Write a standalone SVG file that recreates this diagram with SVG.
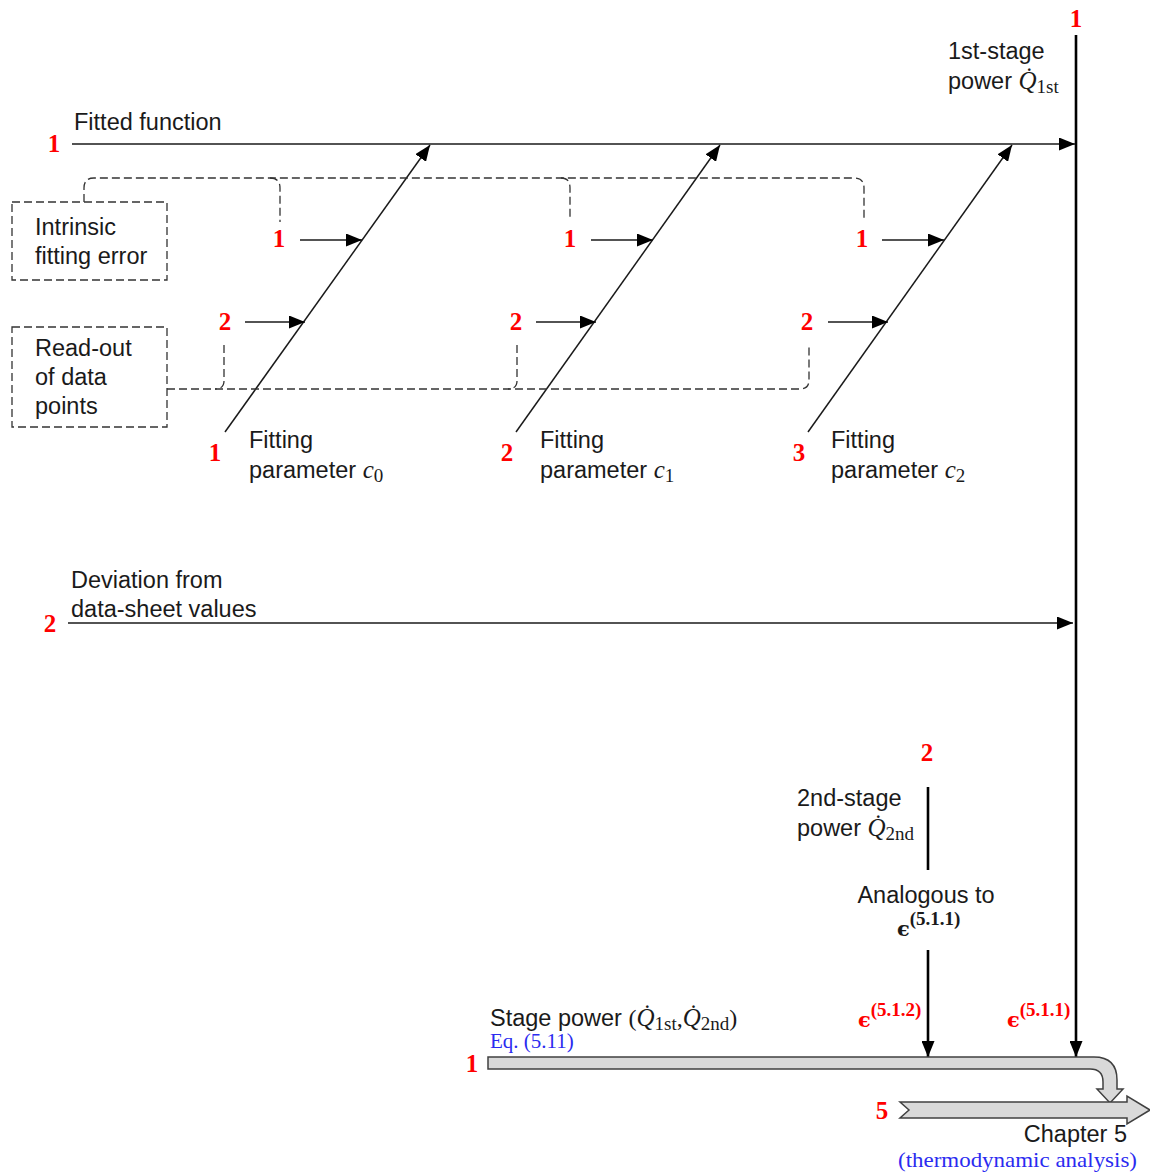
<svg xmlns="http://www.w3.org/2000/svg" width="1150" height="1175" viewBox="0 0 1150 1175">
  <style>
    .lbl { font-family: "Liberation Sans", Arial, sans-serif; font-size: 23.5px; fill: #1a1a1a; }
    .num { font-family: "Liberation Serif", "Times New Roman", serif; font-weight: bold; font-size: 25px; fill: #ff0000; }
    .math { font-family: "Liberation Serif", "DejaVu Serif", serif; font-style: italic; font-size: 25px; }
    .sub { font-family: "Liberation Serif", "DejaVu Serif", serif; font-style: normal; font-size: 19px; }
    .par { font-family: "Liberation Serif", "DejaVu Serif", serif; font-style: normal; font-size: 24px; }
    .eps { font-family: "DejaVu Serif", "Liberation Serif", serif; font-weight: bold; font-size: 21px; }
    .sup { font-family: "Liberation Serif", "DejaVu Serif", serif; font-weight: bold; font-size: 19px; }
    .blue { font-family: "Liberation Serif", "Times New Roman", serif; fill: #2b2bf0; }
    .line { stroke: #1a1a1a; stroke-width: 1.5; fill: none; }
    .thick { stroke: #000; stroke-width: 2.6; fill: none; }
    .dash { stroke: #333; stroke-width: 1.3; fill: none; stroke-dasharray: 8 4; }
    .box { stroke: #333; stroke-width: 1.3; fill: #fff; stroke-dasharray: 8 4; }
    .band { fill: #d9d9d9; stroke: #404040; stroke-width: 1.5; }
  </style>
  <defs>
    <marker id="arr" markerUnits="userSpaceOnUse" markerWidth="17" markerHeight="13" refX="16" refY="6.5" orient="auto">
      <path d="M0,0 L16,6.5 L0,13 Z" fill="#000"/>
    </marker>
  </defs>

  <rect width="1150" height="1175" fill="#fff"/>

  <!-- connectors: main spines, ribs and dashed links -->
  <g id="connectors">
    <!-- 1st-stage spine -->
    <line class="thick" x1="1076" y1="35" x2="1076" y2="1057" marker-end="url(#arr)"/>
    <!-- fitted function -->
    <line class="line" x1="72" y1="144" x2="1075" y2="144" marker-end="url(#arr)"/>
    <!-- deviation from data-sheet -->
    <line class="line" x1="68" y1="623" x2="1073" y2="623" marker-end="url(#arr)"/>
    <!-- fitting parameter ribs -->
    <line class="line" x1="225" y1="432" x2="430" y2="145" marker-end="url(#arr)"/>
    <line class="line" x1="516" y1="432" x2="720" y2="145" marker-end="url(#arr)"/>
    <line class="line" x1="808" y1="432" x2="1012" y2="145" marker-end="url(#arr)"/>
    <!-- sub-ribs -->
    <line class="line" x1="300" y1="240" x2="362" y2="240" marker-end="url(#arr)"/>
    <line class="line" x1="245" y1="322" x2="305" y2="322" marker-end="url(#arr)"/>
    <line class="line" x1="591" y1="240" x2="653" y2="240" marker-end="url(#arr)"/>
    <line class="line" x1="536" y1="322" x2="596" y2="322" marker-end="url(#arr)"/>
    <line class="line" x1="882" y1="240" x2="944" y2="240" marker-end="url(#arr)"/>
    <line class="line" x1="828" y1="322" x2="888" y2="322" marker-end="url(#arr)"/>
    <!-- dashed link: intrinsic fitting error -->
    <path class="dash" d="M84,202 V188 Q84,178 94,178 H854 Q864,178 864,188 V218"/>
    <path class="dash" d="M270,178 Q280,178 280,188 V222"/>
    <path class="dash" d="M561,178 Q570,178 570,188 V220"/>
    <!-- dashed link: read-out of data points -->
    <path class="dash" d="M167,389 H800 Q809,389 809,380 V345"/>
    <path class="dash" d="M224,345 V381 Q224,389 215,389"/>
    <path class="dash" d="M517,345 V381 Q517,389 508,389"/>
    <!-- 2nd-stage spine -->
    <line class="thick" x1="928" y1="787" x2="928" y2="870"/>
    <line class="thick" x1="928" y1="950" x2="928" y2="1057" marker-end="url(#arr)"/>
  </g>

  <!-- 1st-stage power -->
  <g id="node-q1st">
    <text class="num" x="1076" y="27" text-anchor="middle">1</text>
    <text class="lbl" x="948" y="59">1st-stage</text>
    <text class="lbl" x="948" y="89">power <tspan class="math">Q̇</tspan><tspan class="sub" dy="4">1st</tspan></text>
  </g>

  <!-- fitted function -->
  <g id="node-fitted">
    <text class="num" x="54" y="152" text-anchor="middle">1</text>
    <text class="lbl" x="74" y="130">Fitted function</text>
  </g>

  <!-- intrinsic fitting error -->
  <g id="node-intrinsic">
    <rect class="box" x="12" y="202" width="155" height="78"/>
    <text class="lbl" x="35" y="235">Intrinsic</text>
    <text class="lbl" x="35" y="264">fitting error</text>
  </g>

  <!-- read-out of data points -->
  <g id="node-readout">
    <rect class="box" x="12" y="327" width="155" height="100"/>
    <text class="lbl" x="35" y="356">Read-out</text>
    <text class="lbl" x="35" y="385">of data</text>
    <text class="lbl" x="35" y="414">points</text>
  </g>

  <!-- fitting parameter c0 -->
  <g id="node-c0">
    <text class="num" x="279" y="247" text-anchor="middle">1</text>
    <text class="num" x="225" y="330" text-anchor="middle">2</text>
    <text class="num" x="215" y="461" text-anchor="middle">1</text>
    <text class="lbl" x="249" y="448">Fitting</text>
    <text class="lbl" x="249" y="478">parameter <tspan class="math">c</tspan><tspan class="sub" dy="4">0</tspan></text>
  </g>

  <!-- fitting parameter c1 -->
  <g id="node-c1">
    <text class="num" x="570" y="247" text-anchor="middle">1</text>
    <text class="num" x="516" y="330" text-anchor="middle">2</text>
    <text class="num" x="507" y="461" text-anchor="middle">2</text>
    <text class="lbl" x="540" y="448">Fitting</text>
    <text class="lbl" x="540" y="478">parameter <tspan class="math">c</tspan><tspan class="sub" dy="4">1</tspan></text>
  </g>

  <!-- fitting parameter c2 -->
  <g id="node-c2">
    <text class="num" x="862" y="247" text-anchor="middle">1</text>
    <text class="num" x="807" y="330" text-anchor="middle">2</text>
    <text class="num" x="799" y="461" text-anchor="middle">3</text>
    <text class="lbl" x="831" y="448">Fitting</text>
    <text class="lbl" x="831" y="478">parameter <tspan class="math">c</tspan><tspan class="sub" dy="4">2</tspan></text>
  </g>

  <!-- deviation from data-sheet values -->
  <g id="node-deviation">
    <text class="num" x="50" y="632" text-anchor="middle">2</text>
    <text class="lbl" x="71" y="588">Deviation from</text>
    <text class="lbl" x="71" y="617">data-sheet values</text>
  </g>

  <!-- 2nd-stage power -->
  <g id="node-q2nd">
    <text class="num" x="927" y="761" text-anchor="middle">2</text>
    <text class="lbl" x="797" y="806">2nd-stage</text>
    <text class="lbl" x="797" y="836">power <tspan class="math">Q̇</tspan><tspan class="sub" dy="4">2nd</tspan></text>
    <text class="lbl" x="926" y="903" text-anchor="middle">Analogous to</text>
    <text x="897" y="936" fill="#1a1a1a"><tspan class="eps">ϵ</tspan><tspan class="sup" dy="-11">(5.1.1)</tspan></text>
  </g>

  <!-- error labels on spines -->
  <g id="node-eps">
    <text x="858" y="1027" fill="#ff0000"><tspan class="eps">ϵ</tspan><tspan class="sup" dy="-11">(5.1.2)</tspan></text>
    <text x="1007" y="1027" fill="#ff0000"><tspan class="eps">ϵ</tspan><tspan class="sup" dy="-11">(5.1.1)</tspan></text>
  </g>

  <!-- stage power band -->
  <g id="node-stage-power">
    <text class="num" x="472" y="1072" text-anchor="middle">1</text>
    <text class="lbl" x="490" y="1026">Stage power <tspan class="par">(</tspan><tspan class="math">Q̇</tspan><tspan class="sub" dy="4">1st</tspan><tspan class="par" dy="-4">,</tspan><tspan class="math">Q̇</tspan><tspan class="sub" dy="4">2nd</tspan><tspan class="par" dy="-4">)</tspan></text>
    <text class="blue" x="490" y="1048" font-size="21">Eq. (5.11)</text>
    <path class="band" d="M488,1057 H1094 Q1117,1057 1117,1080 V1089 H1123 L1110,1103 L1097,1089 H1103 V1082 Q1103,1069 1090,1069 H488 Z"/>
  </g>

  <!-- chapter 5 -->
  <g id="node-chapter5">
    <text class="num" x="882" y="1119" text-anchor="middle">5</text>
    <path class="band" d="M900,1102 H1127 V1096 L1150,1110 L1127,1124 V1118 H900 L909,1110 Z"/>
    <text class="lbl" x="1127" y="1142" text-anchor="end">Chapter 5</text>
    <text class="blue" x="898" y="1167" font-size="22" textLength="239" lengthAdjust="spacingAndGlyphs">(thermodynamic analysis)</text>
  </g>
</svg>
